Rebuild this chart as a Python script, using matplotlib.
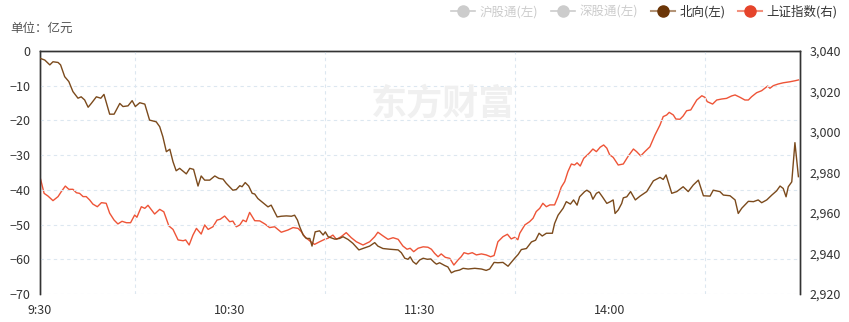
import matplotlib
matplotlib.use("Agg")
import matplotlib.pyplot as plt
from matplotlib.lines import Line2D

plt.rcParams["font.family"] = ["Noto Sans CJK SC", "DejaVu Sans"]

# minutes after 9:30 (lunch break removed), north-bound flow in 亿元
north_t = [0, 1.5, 3.1, 4.1, 5.7, 6.5, 7.8, 9.1, 10.4, 12, 13, 14.1, 15.2, 16.2, 17.8, 19.2,
           20.2, 22, 23.4, 25.2, 26.2, 27.8, 29.1, 30.1, 31.5, 33.1, 34.6, 36.7, 37.8, 38.8,
           39.9, 41, 42, 43, 44.1, 46.2, 47.3, 48.5, 49.9, 50.9, 52, 53.6, 55.2, 56.5, 57.8,
           58.8, 60.9, 62, 63.1, 63.8, 64.8, 65.9, 67, 67.8, 68.8, 70.4, 72, 73, 74.9, 76.2,
           77.8, 79.4, 80.4, 81.3, 82, 83.1, 84.1, 85.2, 85.9, 86.9, 88.3, 89.4, 90.1, 91,
           93.1, 94.6, 95.7, 97.3, 98.8, 100.7, 102.5, 104.1, 105.7, 106.7, 108.3, 110.4, 112,
           113.1, 114.1, 115.2, 116.2, 116.9, 117.8, 118.8, 119.9, 121, 122.3, 123.4, 124.5,
           125.2, 126.2, 127.8, 128.8, 129.9, 131, 132.5, 133.6, 135.2, 137.3, 139.4, 140.9,
           142, 143.4, 144.6, 146.2, 147.8, 148.8, 149.9, 151, 152, 153.6, 155.2, 156.5,
           157.6, 158.6, 159.9, 161.8, 162.5, 163.6, 165.2, 166.2, 167.5, 168.5, 169.6, 170.4,
           172, 172.7, 173.8, 174.6, 175.7, 176.5, 177.6, 179, 180.1, 181, 181.6, 182.6, 183.7,
           184.2, 185.3, 186.5, 188, 189.5, 191.6, 193.7, 195.8, 196.8, 197.7, 199.5, 201.1,
           203.1, 204.7, 206.3, 207.9, 209.5, 211.6, 212.6, 214.7, 215.8, 217.9, 219.5, 220.5,
           221.6, 223.7, 225.3, 226.8, 227.9, 229.5, 231.1, 232.6, 233.7, 234.7, 235.6, 236.3,
           237.4, 238.4, 239.5]
north_v = [-2.1, -2.6, -4.0, -3.1, -3.3, -4.0, -7.4, -8.8, -11.7, -13.6, -13.2, -14.1, -16.2,
           -15.1, -13.2, -13.6, -12.5, -18.2, -18.2, -15.1, -16.0, -15.8, -14.3, -16.0, -14.9,
           -15.3, -19.9, -20.4, -21.8, -24.7, -29.0, -28.3, -31.9, -34.5, -33.8, -35.4, -33.8,
           -34.1, -38.9, -36.0, -37.2, -37.2, -36.0, -36.7, -36.9, -38.1, -40.1, -39.9, -38.8,
           -39.1, -37.9, -38.9, -41.0, -41.2, -42.5, -43.7, -44.9, -44.4, -47.8, -47.6, -47.5,
           -47.6, -47.3, -48.7, -50.6, -53.0, -54.0, -54.0, -56.2, -52.1, -51.8, -53.0, -52.1,
           -53.5, -54.2, -54.0, -53.5, -54.3, -55.4, -57.3, -56.7, -56.2, -55.2, -56.2, -56.9,
           -57.1, -57.2, -57.3, -58.1, -59.7, -60.0, -59.3, -60.7, -61.4, -60.2, -59.7, -60.0,
           -59.9, -60.9, -61.4, -61.0, -61.8, -62.2, -63.9, -63.4, -63.1, -62.6, -62.8, -62.6,
           -62.8, -63.2, -62.8, -60.9, -61.0, -60.9, -62.0, -60.9, -59.7, -58.6, -57.2, -56.9,
           -55.0, -54.5, -52.5, -53.3, -52.5, -52.5, -49.7, -47.3, -45.3, -43.4, -44.1, -42.9,
           -44.4, -42.0, -40.5, -40.1, -40.8, -42.7, -41.0, -40.6, -42.0, -43.9, -43.4, -42.9,
           -46.8, -45.8, -43.9, -42.3, -42.0, -40.5, -42.9, -41.8, -40.5, -37.4, -36.4, -37.0,
           -35.7, -41.0, -40.5, -39.1, -40.5, -38.6, -37.2, -41.7, -41.8, -40.1, -40.5, -41.5,
           -41.7, -42.9, -46.8, -45.3, -43.3, -43.4, -42.9, -43.7, -42.9, -41.5, -40.3, -38.9,
           -39.6, -42.0, -39.1, -37.7, -26.4, -36.2]

# 上证指数
sh_t = [0.2, 1.3, 2.5, 4.1, 5.7, 6.7, 8, 9.1, 10.4, 11.5, 12.5, 13.6, 14.6, 15.7, 16.7, 18.1,
        19.4, 20.9, 22, 23.4, 24.6, 25.9, 27.3, 28.6, 29.9, 30.6, 32, 33.1, 34.1, 36.2, 37.8,
        39.1, 40.7, 42, 43.6, 45.2, 46, 47.1, 48.3, 49.4, 50.9, 52, 53.1, 54.6, 55.9, 56.9,
        58.3, 59.9, 60.9, 62, 63.1, 64.1, 65.1, 66.2, 67.8, 69.4, 71, 72.5, 74.1, 76.2, 78.3,
        79.9, 81.5, 82.5, 83.6, 85.2, 86.7, 88.3, 89.9, 90.9, 92.5, 93.6, 95.1, 96.7, 98.3,
        99.9, 102, 104.1, 105.7, 106.7, 108.3, 109.9, 111.5, 113.1, 114.6, 115.9, 116.9, 118,
        119.4, 121, 122.5, 123.6, 124.6, 125.7, 126.7, 128, 129.4, 130.7, 132, 133, 133.9,
        135.2, 136.5, 137.8, 139.4, 140.9, 142.3, 143.4, 144.6, 146.2, 147.6, 148.8, 149.9,
        150.9, 151.5, 153.1, 154.6, 155.7, 156.7, 157.8, 158.8, 159.9, 161, 162.5, 163.6,
        164.6, 165.7, 166.7, 167.8, 168.8, 169.6, 170.6, 171.7, 173.4, 174.6, 175.7, 176.9,
        178, 179, 179.9, 181, 182.6, 184.2, 185.8, 187.4, 188.4, 189.7, 191, 192.6, 194.2,
        195.8, 196.8, 197.9, 198.7, 200, 200.8, 202.1, 203.1, 204.2, 205.5, 207.4, 209, 210,
        210.7, 212.4, 213.7, 215.3, 216.8, 218.4, 219.5, 221.1, 222.6, 223.7, 224.7, 226.3,
        227.9, 228.9, 229.8, 230.5, 231.6, 233.1, 234.7, 236.8, 238.4, 239.5]
sh_v = [2976.6, 2969.7, 2968.4, 2966.1, 2968.1, 2970.5, 2973.3, 2971.7, 2971.7, 2970.0, 2969.7,
        2968.1, 2968.1, 2966.4, 2964.4, 2963.1, 2965.1, 2964.8, 2959.9, 2956.5, 2954.6, 2955.9,
        2955.2, 2955.2, 2959.0, 2957.9, 2963.1, 2962.3, 2963.8, 2959.5, 2961.8, 2960.6, 2953.6,
        2951.9, 2946.7, 2946.3, 2946.7, 2944.2, 2949.1, 2952.4, 2949.6, 2954.1, 2951.9, 2953.2,
        2956.5, 2956.9, 2958.5, 2955.7, 2956.0, 2953.2, 2954.1, 2956.5, 2955.7, 2960.3, 2956.2,
        2956.1, 2954.6, 2952.8, 2953.2, 2950.5, 2951.6, 2952.8, 2952.4, 2950.8, 2948.3, 2946.2,
        2944.5, 2945.8, 2947.0, 2947.5, 2949.1, 2947.0, 2948.3, 2950.3, 2947.8, 2945.8, 2944.2,
        2945.8, 2948.3, 2950.5, 2948.7, 2947.0, 2947.8, 2947.0, 2943.7, 2942.1, 2942.6, 2940.9,
        2942.6, 2943.3, 2943.1, 2942.1, 2940.1, 2938.4, 2939.8, 2938.1, 2937.6, 2934.3, 2936.8,
        2938.4, 2940.4, 2939.8, 2940.4, 2939.3, 2939.8, 2939.3, 2938.4, 2939.0, 2945.8, 2948.3,
        2949.5, 2947.2, 2948.0, 2946.8, 2950.0, 2954.1, 2955.7, 2957.4, 2960.7, 2962.3, 2964.8,
        2963.1, 2964.0, 2964.0, 2968.1, 2972.7, 2975.5, 2980.4, 2984.2, 2983.7, 2984.8, 2983.2,
        2987.0, 2989.5, 2991.6, 2990.3, 2992.5, 2993.6, 2992.0, 2988.7, 2987.5, 2983.7, 2984.2,
        2988.2, 2991.6, 2990.3, 2988.2, 2990.3, 2992.7, 2998.5, 3003.5, 3007.6, 3008.4, 3009.7,
        3008.4, 3006.4, 3006.3, 3007.9, 3010.5, 3010.9, 3015.8, 3017.9, 3017.1, 3015.0, 3013.8,
        3015.8, 3016.3, 3016.6, 3017.8, 3018.3, 3017.1, 3015.8, 3015.8, 3017.4, 3019.4, 3020.4,
        3021.6, 3022.7, 3021.6, 3022.9, 3023.7, 3024.3, 3024.8, 3025.3, 3025.7]

xtick_pos = [0, 60, 120, 180]
xtick_labels = ["9:30", "10:30", "11:30", "14:00"]
xgrid_pos = [30, 90, 150, 210]
left_ticks = [0, -10, -20, -30, -40, -50, -60, -70]
right_ticks = [2920, 2940, 2960, 2980, 3000, 3020, 3040]

BROWN = "#7b4a1c"
RED = "#ee5437"
GRID = "#dce7f0"
TXT = "#333333"

fig = plt.figure(figsize=(8.49, 3.22), dpi=100)
ax = fig.add_axes([40 / 849, 28 / 322, 760 / 849, 243 / 322])
ax2 = ax.twinx()

ax.set_xlim(0, 240)
ax.set_ylim(-70, 0)
ax2.set_ylim(2920, 3040)

for y in left_ticks[1:]:
    ax.axhline(y, color=GRID, lw=0.8, ls=(0, (3, 3)), zorder=0)
for x in xgrid_pos:
    ax.axvline(x, color=GRID, lw=0.8, ls=(0, (3, 3)), zorder=0)

ax.text(0.53, 0.78, "东方财富", transform=ax.transAxes, ha="center", va="center",
        fontsize=26, fontweight="bold", color="#f0f0f0", zorder=0)

ax2.plot(sh_t, sh_v, color=RED, lw=1.0, zorder=2)
ax.plot(north_t, north_v, color=BROWN, lw=1.0, zorder=3)
ax.set_zorder(ax2.get_zorder() + 1)
ax.patch.set_visible(False)

ax.set_xticks(xtick_pos)
ax.set_xticklabels(xtick_labels)
ax.set_yticks(left_ticks)
ax2.set_yticks(right_ticks)
ax2.set_yticklabels([f"{v:,}" for v in right_ticks])

for a in (ax, ax2):
    a.tick_params(axis="both", length=0, labelsize=9, colors=TXT, pad=7)
    a.spines["bottom"].set_visible(False)
    for s in ("top", "left", "right"):
        a.spines[s].set_color("#333333")
        a.spines[s].set_linewidth(1.0)

fig.text(10 / 849, 1 - 28 / 322, "单位：亿元", fontsize=9, color="#555555", va="center")

handles = [
    Line2D([], [], color="#cccccc", marker="o", markersize=8, lw=1.2),
    Line2D([], [], color="#cccccc", marker="o", markersize=8, lw=1.2),
    Line2D([], [], color="#b39477", marker="o", markersize=8, lw=1.5,
           markerfacecolor="#6b3507", markeredgecolor="#6b3507"),
    Line2D([], [], color="#f2917e", marker="o", markersize=8, lw=1.5,
           markerfacecolor="#e5442b", markeredgecolor="#e5442b"),
]
labels = ["沪股通(左)", "深股通(左)", "北向(左)", "上证指数(右)"]
leg = fig.legend(handles, labels, ncol=4, loc="upper right", bbox_to_anchor=(1.0, 1.02),
                 frameon=False, fontsize=9, handlelength=1.9, handletextpad=0.4,
                 columnspacing=1.0)
for t, c in zip(leg.get_texts(), ["#cccccc", "#cccccc", TXT, TXT]):
    t.set_color(c)

fig.savefig("out.png", dpi=100)
